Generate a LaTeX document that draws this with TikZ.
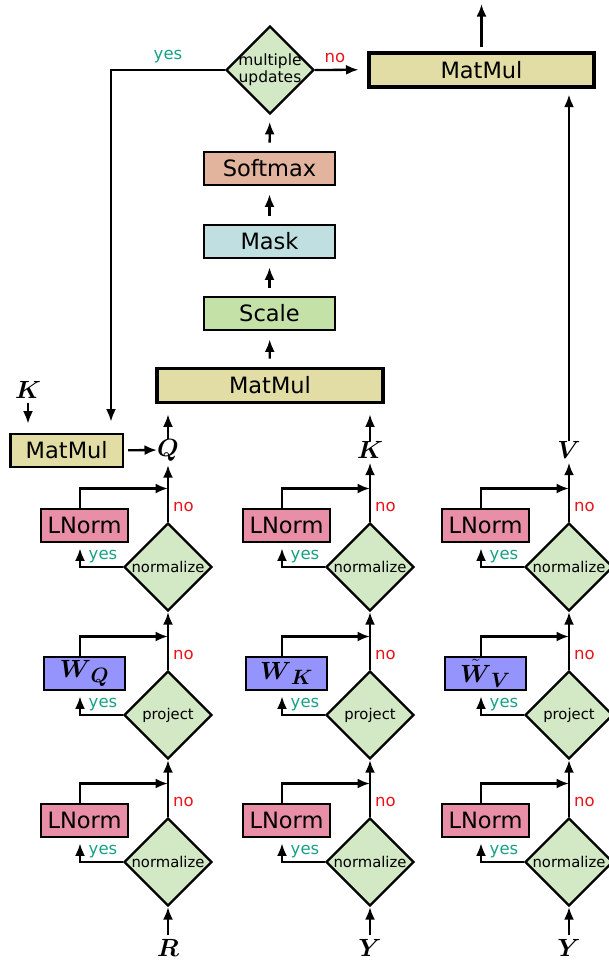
\RequirePackage{fix-cm}
\documentclass[tikz,border=0pt]{standalone}
\usepackage{amsmath,bm}
\usepackage{fontspec}
\setmainfont{DejaVu Sans}
\usetikzlibrary{shapes.geometric,arrows.meta,calc}

\definecolor{decfill}{HTML}{D3E8C4}
\definecolor{lnfill}{HTML}{E88EA6}
\definecolor{wfill}{HTML}{9494FC}
\definecolor{mmfill}{HTML}{E2DDA5}
\definecolor{smfill}{HTML}{E2B49E}
\definecolor{maskfill}{HTML}{BFDFE0}
\definecolor{scalefill}{HTML}{C4E2A7}
\definecolor{yescol}{HTML}{16A085}
\definecolor{nocol}{HTML}{E8141A}

% bold math symbols at a fixed large size
\newcommand\mlbl[1]{{\fontsize{24.88}{30}\selectfont$\boldsymbol{#1}$}}
% weight matrix with a slightly detached subscript
\newcommand\wmat[2]{{\fontsize{24.88}{30}\selectfont$\boldsymbol{#1}_{\mkern3mu\boldsymbol{#2}}$}}

\tikzset{
  box/.style={draw, line width=2.3pt, minimum height=33.5pt, inner sep=0pt,
    font=\fontsize{22.5}{27}\selectfont},
  thickbox/.style={box, line width=3.8pt, minimum height=34pt},
  dec/.style={draw, diamond, aspect=1, minimum size=88pt, inner sep=0pt,
    fill=decfill, line width=2.3pt, font=\fontsize{14.8}{17}\selectfont},
  flow/.style={draw, line width=2.3pt, -{Latex[length=12.5pt,width=10pt]}},
  yeslbl/.style={text=yescol, inner sep=0pt, font=\fontsize{16.5}{19}\selectfont},
  nolbl/.style={text=nocol, inner sep=0pt, font=\fontsize{16.5}{19}\selectfont},
  var/.style={inner sep=0pt}
}

% one decision stage: diamond, operation box and its bypass
% #1 prefix, #2 column x, #3 centre y, #4 question, #5 box text, #6 box fill, #7 box width
\newcommand\decstage[7]{%
  \node[dec] (#1-d) at (#2,#3) {#4};
  \node[box, fill=#6, minimum width=#7] (#1-b) at (#2-83.5,#3-41.5) {#5};
  \coordinate (#1-j) at (#2,#3-78.5);
  \draw[flow, shorten >=5pt] (#1-d.west) -| ([xshift=-4.5pt]#1-b.south);
  \draw[flow] ([xshift=-4.5pt]#1-b.north) |- (#1-j);
  \node[yeslbl] at (#2-65,#3-10.5) {yes};
  \node[nolbl] at (#2+15.5,#3-60) {no};
}

% one input branch: normalize, project, normalize
% #1 prefix, #2 column x, #3 input, #4 weight, #5 output
\newcommand\branch[5]{%
  \node[var] (#1-in) at (#2,948) {#3};
  \decstage{#1-a}{#2}{862}{normalize}{LNorm}{lnfill}{86.7pt}
  \decstage{#1-b}{#2}{715}{project}{#4}{wfill}{80.7pt}
  \decstage{#1-c}{#2}{567}{normalize}{LNorm}{lnfill}{86.7pt}
  \node[var] (#1-out) at (#2,450) {#5};
  \draw[flow, shorten <=4pt] (#1-in) -- (#1-a-d);
  \draw[flow] (#1-a-d) -- (#1-b-d);
  \draw[flow] (#1-b-d) -- (#1-c-d);
  \draw[flow, shorten >=4pt] (#1-c-d) -- (#1-out);
}

\begin{document}
\begin{tikzpicture}[x=1pt,y=-1pt]
\useasboundingbox (0,0) rectangle (609,962);

% the three branches
\branch{q}{168}{\mlbl{R}}{\wmat{W}{Q}}{\mlbl{Q}}
\branch{k}{370}{\mlbl{Y}}{\wmat{W}{K}}{\mlbl{K}}
\branch{v}{569}{\mlbl{Y}}{\wmat{\tilde{W}}{V}}{\mlbl{V}}

% attention core
\node[thickbox, fill=mmfill, minimum width=226.2pt] (mmqk) at (270,385.5) {MatMul};
\node[box, fill=scalefill, minimum width=130.7pt] (scale) at (269.5,313.5) {Scale};
\node[box, fill=maskfill, minimum width=130.7pt] (mask) at (269.5,241.5) {Mask};
\node[box, fill=smfill, minimum width=130.7pt] (softmax) at (269.5,168.5) {Softmax};
\node[dec, inner sep=-3pt, align=center, font=\fontsize{15.5}{17}\selectfont]
  (multi) at (270,70) {multiple\\updates};
\node[thickbox, fill=mmfill, minimum width=225.2pt] (mmout) at (481.5,69.7) {MatMul};
\coordinate (out) at (481.5,4);

% query update
\node[box, fill=mmfill, minimum width=112.4pt] (mmleft) at (66.7,450.5) {MatMul};
\node[var] (kleft) at (28,390) {\mlbl{K}};

\draw[flow, shorten <=8pt, shorten >=8pt] (mmqk) -- (scale);
\draw[flow, shorten <=8pt, shorten >=8pt] (scale) -- (mask);
\draw[flow, shorten <=8pt, shorten >=8pt] (mask) -- (softmax);
\draw[flow, shorten <=8pt, shorten >=7pt] (softmax) -- (multi);

\draw[flow, shorten >=10pt] (q-out) -- (q-out |- mmqk.south);
\draw[flow, shorten >=10pt] (k-out) -- (k-out |- mmqk.south);
\draw[flow, shorten >=6pt] (v-out) -- (v-out |- mmout.south);
\draw[flow, shorten <=4pt] (mmout) -- (out);

\draw[flow, shorten >=8.5pt] (multi.east) -- (mmout.west);
\node[nolbl] at (335,58) {no};
\draw[flow, shorten >=11pt] (multi.west) -| ([xshift=44.3pt]mmleft.north);
\node[yeslbl] at (168,57) {yes};

\draw[flow, shorten <=4pt, shorten >=9pt] (kleft) -- (kleft |- mmleft.north);
\draw[flow, shorten <=4pt] (mmleft) -- (q-out);
\end{tikzpicture}
\end{document}
